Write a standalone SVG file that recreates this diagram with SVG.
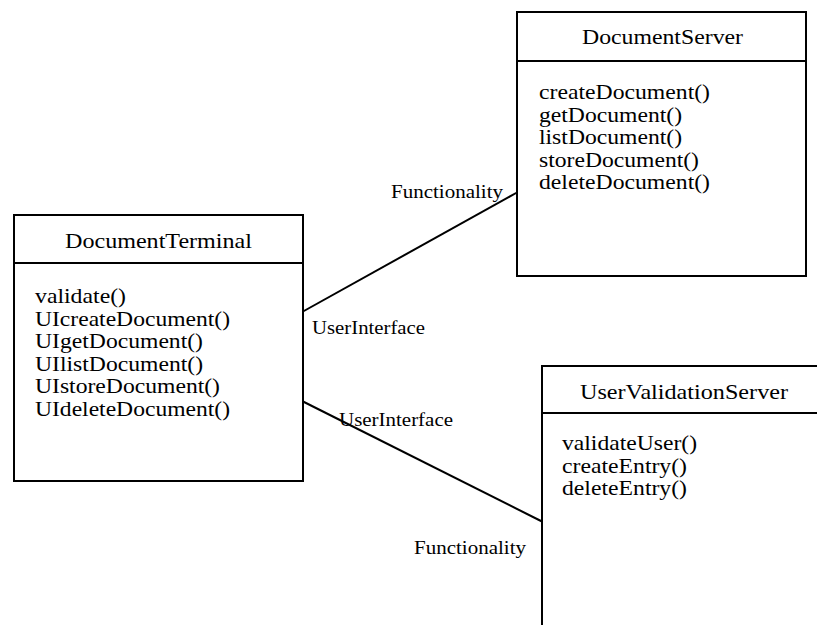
<svg xmlns="http://www.w3.org/2000/svg" width="817" height="625" viewBox="0 0 817 625">
<style>
.box{fill:#fff;stroke:#000;stroke-width:2}
.div{stroke:#000;stroke-width:2}
.t{font-family:"Liberation Serif","Times New Roman",serif;font-size:21px;fill:#000}
.lb{font-family:"Liberation Serif","Times New Roman",serif;font-size:18px;fill:#000}
.edge{stroke:#000;stroke-width:2;fill:none}
</style>
<rect x="0" y="0" width="817" height="625" fill="#fff"/>
<g id="connectors">
<line class="edge" x1="303" y1="311.5" x2="517" y2="192.5"/>
<line class="edge" x1="303" y1="401.5" x2="542" y2="521.5"/>
<text class="lb" x="391" y="198" textLength="112" lengthAdjust="spacingAndGlyphs">Functionality</text>
<text class="lb" x="312" y="334" textLength="113" lengthAdjust="spacingAndGlyphs">UserInterface</text>
<text class="lb" x="339" y="426" textLength="114" lengthAdjust="spacingAndGlyphs">UserInterface</text>
<text class="lb" x="414" y="554" textLength="112" lengthAdjust="spacingAndGlyphs">Functionality</text>
</g>
<g id="DocumentTerminal">
<rect class="box" x="14" y="215" width="289" height="266"/>
<line class="div" x1="14" y1="263" x2="303" y2="263"/>
<text class="t" x="65" y="248" textLength="187" lengthAdjust="spacingAndGlyphs">DocumentTerminal</text>
<text class="t" x="35" y="303" textLength="91" lengthAdjust="spacingAndGlyphs">validate()</text>
<text class="t" x="35" y="325.6" textLength="195" lengthAdjust="spacingAndGlyphs">UIcreateDocument()</text>
<text class="t" x="35" y="348.2" textLength="168" lengthAdjust="spacingAndGlyphs">UIgetDocument()</text>
<text class="t" x="35" y="370.8" textLength="168" lengthAdjust="spacingAndGlyphs">UIlistDocument()</text>
<text class="t" x="35" y="393.4" textLength="185" lengthAdjust="spacingAndGlyphs">UIstoreDocument()</text>
<text class="t" x="35" y="416" textLength="195" lengthAdjust="spacingAndGlyphs">UIdeleteDocument()</text>
</g>
<g id="DocumentServer">
<rect class="box" x="517" y="12" width="289" height="264"/>
<line class="div" x1="517" y1="61" x2="806" y2="61"/>
<text class="t" x="582" y="44" textLength="161" lengthAdjust="spacingAndGlyphs">DocumentServer</text>
<text class="t" x="539" y="99" textLength="171" lengthAdjust="spacingAndGlyphs">createDocument()</text>
<text class="t" x="539" y="121.5" textLength="143" lengthAdjust="spacingAndGlyphs">getDocument()</text>
<text class="t" x="539" y="144" textLength="143" lengthAdjust="spacingAndGlyphs">listDocument()</text>
<text class="t" x="539" y="166.5" textLength="160" lengthAdjust="spacingAndGlyphs">storeDocument()</text>
<text class="t" x="539" y="189" textLength="171" lengthAdjust="spacingAndGlyphs">deleteDocument()</text>
</g>
<g id="UserValidationServer">
<rect class="box" x="542" y="366" width="284" height="300"/>
<line class="div" x1="542" y1="413" x2="826" y2="413"/>
<text class="t" x="580" y="399" textLength="208" lengthAdjust="spacingAndGlyphs">UserValidationServer</text>
<text class="t" x="562" y="450" textLength="135" lengthAdjust="spacingAndGlyphs">validateUser()</text>
<text class="t" x="562" y="472.5" textLength="125" lengthAdjust="spacingAndGlyphs">createEntry()</text>
<text class="t" x="562" y="495" textLength="125" lengthAdjust="spacingAndGlyphs">deleteEntry()</text>
</g>
</svg>
